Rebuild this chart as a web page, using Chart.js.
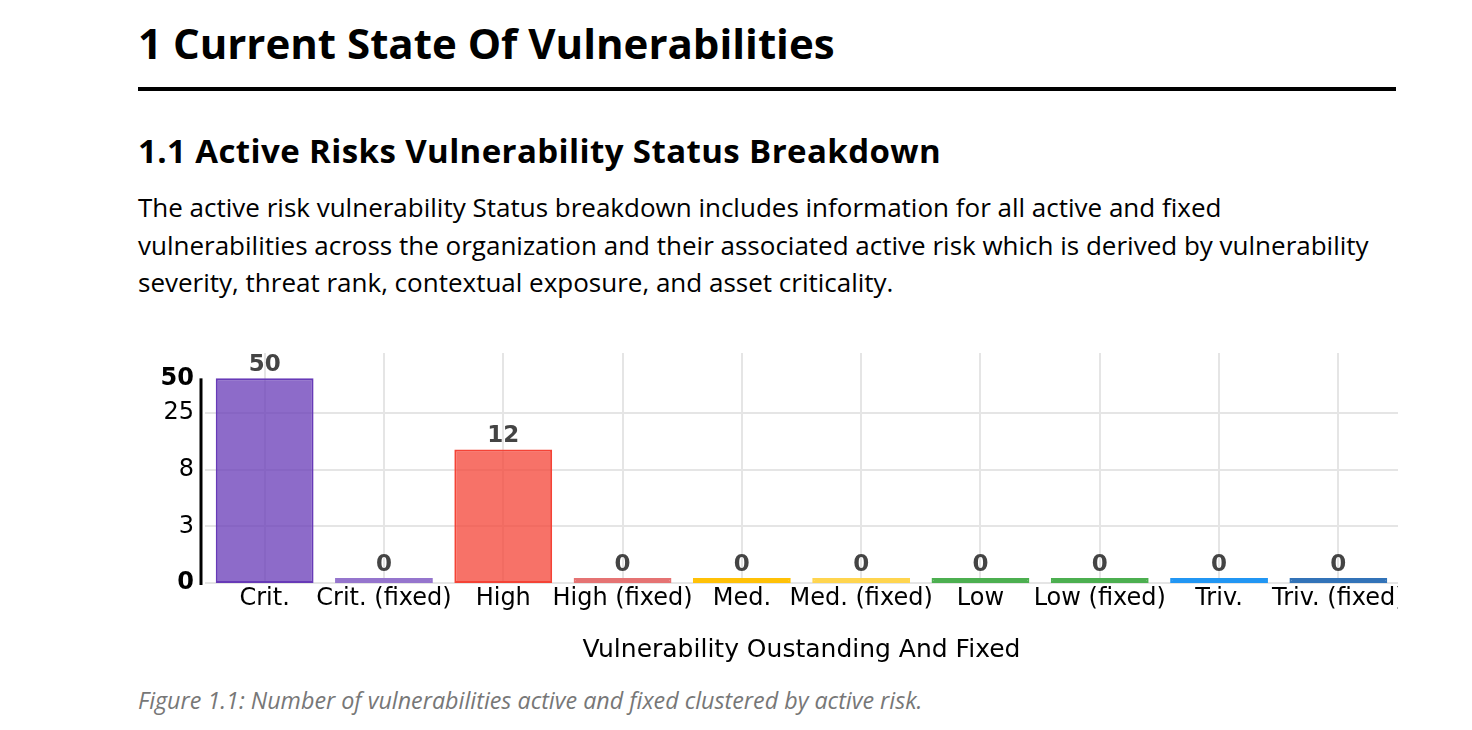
<!DOCTYPE html>
<html>
<head>
<meta charset="utf-8">
<script src="https://cdn.jsdelivr.net/npm/chart.js@4"></script>
<style>
  body { margin: 0; background: #fff; font-family: "Open Sans", sans-serif; color: #000; }
  .page { position: relative; width: 1472px; height: 730px; }
  h1 { position: absolute; left: 138px; top: 14px; margin: 0; font-size: 42px; font-weight: 700; letter-spacing: 0; }
  .rule { position: absolute; left: 138px; top: 87px; width: 1258px; height: 4px; background: #000; }
  h2 { position: absolute; left: 138px; top: 128px; margin: 0; font-size: 33px; font-weight: 700; letter-spacing: 0.4px; }
  p { position: absolute; left: 138px; top: 189px; margin: 0; width: 1300px; font-size: 26px; line-height: 37.5px; white-space: nowrap; }
  .grafico { position: absolute; left: 138px; top: 340px; width: 1260px; height: 330px; }
  .legenda { position: absolute; left: 138px; top: 684px; margin: 0; font-size: 23.3px; font-style: italic; color: #777; }
</style>
</head>
<body>
<div class="page">
  <h1>1 Current State Of Vulnerabilities</h1>
  <div class="rule"></div>
  <h2>1.1 Active Risks Vulnerability Status Breakdown</h2>
  <p>The active risk vulnerability Status breakdown includes information for all active and fixed<br>vulnerabilities across the organization and their associated active risk which is derived by vulnerability<br>severity, threat rank, contextual exposure, and asset criticality.</p>
  <div class="grafico"><canvas id="grafico-1"></canvas></div>
  <div class="legenda">Figure 1.1: Number of vulnerabilities active and fixed clustered by active risk.</div>
</div>
<script>
var categorias = ['Crit.', 'Crit. (fixed)', 'High', 'High (fixed)', 'Med.', 'Med. (fixed)', 'Low', 'Low (fixed)', 'Triv.', 'Triv. (fixed)'];
var valores = [50, 0, 12, 0, 0, 0, 0, 0, 0, 0];

// log axis: tick positions and the text shown at them
var ticksY = [0.8192, 2.56, 8, 25, 50];
var rotulosY = ['0', '3', '8', '25', '50'];

var coresFundo = ['rgba(103, 58, 183, 0.75)', '#9575cd', 'rgba(244, 67, 54, 0.75)', '#e57373', '#ffc107',
                  '#ffd54f', '#4caf50', '#4caf50', '#2196f3', '#3273b8'];
var coresBorda = ['#673ab7', '#9575cd', '#f44336', '#e57373', '#ffc107',
                  '#ffd54f', '#4caf50', '#4caf50', '#2196f3', '#3273b8'];

var fonte = 'DejaVu Sans';

// a log axis can't show 0, so zero counts sit on the axis bottom (minBarLength makes them visible)
var valoresPlot = valores.map(function(v) { return v > 0 ? v : ticksY[0]; });

// numbers above the bars + the short black y axis line
var extras = {
  id: 'extras',
  afterDatasetsDraw: function(chart) {
    var ctx = chart.ctx;
    var meta = chart.getDatasetMeta(0);
    ctx.save();
    ctx.fillStyle = '#444';
    ctx.font = 'bold 23px "' + fonte + '"';
    ctx.textAlign = 'center';
    ctx.textBaseline = 'alphabetic';
    meta.data.forEach(function(bar, i) {
      var topo = Math.min(bar.y, bar.base);
      ctx.fillText(String(valores[i]), bar.x, topo - 7);
    });
    var y = chart.scales.y;
    ctx.strokeStyle = '#000';
    ctx.lineWidth = 3;
    ctx.beginPath();
    ctx.moveTo(chart.chartArea.left - 4, y.getPixelForValue(50));
    ctx.lineTo(chart.chartArea.left - 4, y.getPixelForValue(ticksY[0]) + 2);
    ctx.stroke();
    ctx.restore();
  }
};

var ctx = document.getElementById('grafico-1').getContext('2d');
var chart = new Chart(ctx, {
  type: 'bar',
  data: {
    labels: categorias,
    datasets: [{
      data: valoresPlot,
      backgroundColor: coresFundo,
      borderColor: coresBorda,
      borderWidth: 2,
      borderSkipped: false,
      minBarLength: 5,
      barPercentage: 0.82,
      categoryPercentage: 1
    }]
  },
  options: {
    responsive: true,
    maintainAspectRatio: false,
    animation: false,
    layout: { padding: { top: 13, left: 0, right: 0, bottom: 0 } },
    plugins: { legend: { display: false }, tooltip: { enabled: false } },
    scales: {
      x: {
        offset: true,
        grid: { offset: false, color: '#e5e5e5', lineWidth: 2, drawTicks: false },
        border: { display: false },
        ticks: { color: '#000', font: { family: fonte, size: 24 }, padding: 1, autoSkip: false, maxRotation: 0 },
        title: { display: true, text: 'Vulnerability Oustanding And Fixed', color: '#000',
                 font: { family: fonte, size: 25 }, padding: { top: 19, bottom: 5 } },
        afterFit: function(s) { s.height = 87; s.paddingLeft = 0; s.paddingRight = 0; }
      },
      y: {
        type: 'logarithmic',
        min: 0.8192,
        max: 83.2,
        grid: {
          color: function(c) { return c.tick && c.tick.value === 50 ? 'rgba(0,0,0,0)' : '#e5e5e5'; },
          lineWidth: 2,
          drawTicks: false
        },
        border: { display: false },
        afterBuildTicks: function(s) { s.ticks = ticksY.map(function(v) { return { value: v }; }); },
        ticks: {
          color: '#000',
          padding: 11,
          font: function(c) {
            var b = c.index === 0 || c.index === ticksY.length - 1;
            return { family: fonte, size: 24, weight: b ? 'bold' : 'normal' };
          },
          callback: function(v, i) { return rotulosY[i]; }
        },
        afterFit: function(s) { s.width = 67; s.paddingTop = 0; s.paddingBottom = 0; }
      }
    }
  },
  plugins: [extras]
});
</script>
</body>
</html>
